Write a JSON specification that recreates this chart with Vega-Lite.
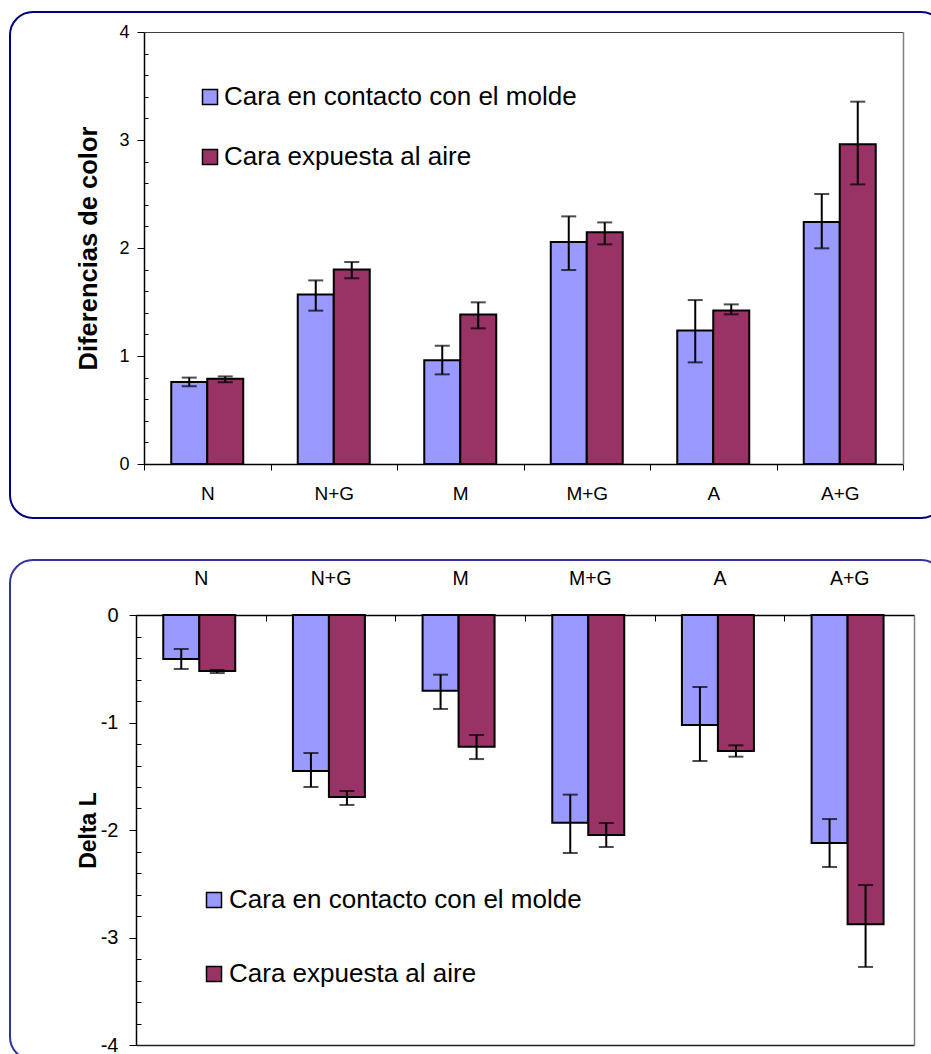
{
  "$schema": "https://vega.github.io/schema/vega-lite/v6.json",
  "padding": {"left": 9, "top": 11, "right": 0, "bottom": 0},
  "spacing": 40,
  "background": "white",
  "resolve": {"scale": {"color": "independent"}, "legend": {"color": "independent"}},
  "config": {
    "font": "Liberation Sans",
    "axis": {"grid": false, "labelColor": "black", "tickColor": "black", "domainColor": "black", "titleColor": "black", "labelFont": "Liberation Sans", "titleFont": "Liberation Sans"},
    "legend": {"labelFont": "Liberation Sans", "labelColor": "black"}
  },
  "datasets": {
    "top": [
      {"cat": "N", "serie": "Cara en contacto con el molde", "val": 0.76, "lo": 0.72, "hi": 0.8},
      {"cat": "N", "serie": "Cara expuesta al aire", "val": 0.79, "lo": 0.757, "hi": 0.811},
      {"cat": "N+G", "serie": "Cara en contacto con el molde", "val": 1.57, "lo": 1.42, "hi": 1.7},
      {"cat": "N+G", "serie": "Cara expuesta al aire", "val": 1.8, "lo": 1.72, "hi": 1.87},
      {"cat": "M", "serie": "Cara en contacto con el molde", "val": 0.96, "lo": 0.83, "hi": 1.095},
      {"cat": "M", "serie": "Cara expuesta al aire", "val": 1.385, "lo": 1.256, "hi": 1.497},
      {"cat": "M+G", "serie": "Cara en contacto con el molde", "val": 2.055, "lo": 1.796, "hi": 2.293},
      {"cat": "M+G", "serie": "Cara expuesta al aire", "val": 2.145, "lo": 2.034, "hi": 2.237},
      {"cat": "A", "serie": "Cara en contacto con el molde", "val": 1.237, "lo": 0.941, "hi": 1.518},
      {"cat": "A", "serie": "Cara expuesta al aire", "val": 1.422, "lo": 1.386, "hi": 1.478},
      {"cat": "A+G", "serie": "Cara en contacto con el molde", "val": 2.241, "lo": 1.997, "hi": 2.5},
      {"cat": "A+G", "serie": "Cara expuesta al aire", "val": 2.96, "lo": 2.589, "hi": 3.355}
    ],
    "bottom": [
      {"cat": "N", "serie": "Cara en contacto con el molde", "val": -0.409, "lo": -0.316, "hi": -0.502},
      {"cat": "N", "serie": "Cara expuesta al aire", "val": -0.521, "lo": -0.512, "hi": -0.54},
      {"cat": "N+G", "serie": "Cara en contacto con el molde", "val": -1.451, "lo": -1.284, "hi": -1.6},
      {"cat": "N+G", "serie": "Cara expuesta al aire", "val": -1.693, "lo": -1.637, "hi": -1.767},
      {"cat": "M", "serie": "Cara en contacto con el molde", "val": -0.704, "lo": -0.555, "hi": -0.874},
      {"cat": "M", "serie": "Cara expuesta al aire", "val": -1.225, "lo": -1.116, "hi": -1.34},
      {"cat": "M+G", "serie": "Cara en contacto con el molde", "val": -1.932, "lo": -1.671, "hi": -2.214},
      {"cat": "M+G", "serie": "Cara expuesta al aire", "val": -2.046, "lo": -1.935, "hi": -2.158},
      {"cat": "A", "serie": "Cara en contacto con el molde", "val": -1.023, "lo": -0.67, "hi": -1.358},
      {"cat": "A", "serie": "Cara expuesta al aire", "val": -1.265, "lo": -1.212, "hi": -1.318},
      {"cat": "A+G", "serie": "Cara en contacto con el molde", "val": -2.121, "lo": -1.898, "hi": -2.344},
      {"cat": "A+G", "serie": "Cara expuesta al aire", "val": -2.877, "lo": -2.512, "hi": -3.274}
    ]
  },
  "vconcat": [
    {
      "width": 934,
      "height": 506,
      "view": {"stroke": "#000080", "strokeWidth": 2, "cornerRadius": 23, "fill": "white"},
      "data": {"name": "top"},
      "resolve": {"axis": {"x": "independent", "y": "independent"}},
      "layer": [
        {
          "mark": {"type": "bar", "stroke": "black", "strokeWidth": 2},
          "encoding": {
            "x": {"field": "cat", "type": "nominal", "sort": ["N", "N+G", "M", "M+G", "A", "A+G"],
                  "scale": {"range": [134, 893], "paddingInner": 0, "paddingOuter": 0},
                  "axis": {"orient": "bottom", "offset": -54, "title": null, "tickBand": "extent", "tickSize": 6, "labelPadding": 14, "labelFontSize": 19, "labelAngle": 0, "domainWidth": 1.5, "tickWidth": 1}},
            "xOffset": {"field": "serie", "type": "nominal", "sort": ["Cara en contacto con el molde", "Cara expuesta al aire"], "scale": {"paddingInner": 0, "paddingOuter": 0.757}},
            "y": {"field": "val", "type": "quantitative",
                  "scale": {"domain": [0, 4], "range": [452, 20], "nice": false, "zero": true},
                  "axis": {"orient": "left", "offset": -134, "values": [0, 1, 2, 3, 4], "tickSize": 7, "labelPadding": 8, "labelFontSize": 18, "title": "Diferencias de color", "titleFontSize": 25.5, "titleFontWeight": "bold", "titlePadding": 17, "domainWidth": 1.5, "tickWidth": 1}},
            "color": {"field": "serie", "type": "nominal",
                      "scale": {"domain": ["Cara en contacto con el molde", "Cara expuesta al aire"], "range": ["#9999FF", "#993366"]},
                      "legend": {"orient": "none", "legendX": 187, "legendY": 72, "title": null, "padding": 0, "symbolType": "square", "symbolSize": 225, "symbolStrokeColor": "black", "symbolStrokeWidth": 1.5, "symbolOpacity": 1, "labelFontSize": 26, "labelLimit": 600, "labelOffset": 1, "rowPadding": 34}}
          }
        },
        {
          "mark": {"type": "rule", "color": "black", "strokeWidth": 2},
          "encoding": {
            "x": {"field": "cat", "type": "nominal", "sort": ["N", "N+G", "M", "M+G", "A", "A+G"], "scale": {"range": [134, 893], "paddingInner": 0, "paddingOuter": 0}, "axis": null},
            "xOffset": {"field": "serie", "type": "nominal", "sort": ["Cara en contacto con el molde", "Cara expuesta al aire"], "scale": {"paddingInner": 0, "paddingOuter": 0.757}},
            "y": {"field": "lo", "type": "quantitative", "scale": {"domain": [0, 4], "range": [452, 20], "nice": false},
                  "axis": {"orient": "left", "offset": -134, "values": [0.2, 0.4, 0.6, 0.8, 1.2, 1.4, 1.6, 1.8, 2.2, 2.4, 2.6, 2.8, 3.2, 3.4, 3.6, 3.8], "tickSize": -4, "labels": false, "domain": false, "title": null, "tickWidth": 1}},
            "y2": {"field": "hi"}
          }
        },
        {
          "mark": {"type": "tick", "orient": "horizontal", "color": "black", "thickness": 2, "size": 15},
          "encoding": {
            "x": {"field": "cat", "type": "nominal", "sort": ["N", "N+G", "M", "M+G", "A", "A+G"], "scale": {"range": [134, 893], "paddingInner": 0, "paddingOuter": 0},
                  "axis": {"orient": "top", "offset": -20, "labels": false, "ticks": false, "title": null, "domainColor": "#404040", "domainWidth": 1}},
            "xOffset": {"field": "serie", "type": "nominal", "sort": ["Cara en contacto con el molde", "Cara expuesta al aire"], "scale": {"paddingInner": 0, "paddingOuter": 0.757}},
            "y": {"field": "lo", "type": "quantitative", "scale": {"domain": [0, 4], "range": [452, 20], "nice": false},
                  "axis": {"orient": "right", "offset": -41, "labels": false, "ticks": false, "title": null, "domainColor": "#808080", "domainWidth": 1.5}}
          }
        },
        {
          "mark": {"type": "tick", "orient": "horizontal", "color": "black", "thickness": 2, "size": 15},
          "encoding": {
            "x": {"field": "cat", "type": "nominal", "sort": ["N", "N+G", "M", "M+G", "A", "A+G"], "scale": {"range": [134, 893], "paddingInner": 0, "paddingOuter": 0}, "axis": null},
            "xOffset": {"field": "serie", "type": "nominal", "sort": ["Cara en contacto con el molde", "Cara expuesta al aire"], "scale": {"paddingInner": 0, "paddingOuter": 0.757}},
            "y": {"field": "hi", "type": "quantitative", "scale": {"domain": [0, 4], "range": [452, 20], "nice": false}, "axis": null}
          }
        }
      ]
    },
    {
      "width": 934,
      "height": 500,
      "view": {"stroke": "#333399", "strokeWidth": 2, "cornerRadius": 23, "fill": "white"},
      "data": {"name": "bottom"},
      "resolve": {"axis": {"x": "independent", "y": "independent"}},
      "layer": [
        {
          "mark": {"type": "bar", "stroke": "black", "strokeWidth": 2},
          "encoding": {
            "x": {"field": "cat", "type": "nominal", "sort": ["N", "N+G", "M", "M+G", "A", "A+G"],
                  "scale": {"range": [126, 904], "paddingInner": 0, "paddingOuter": 0},
                  "axis": {"orient": "top", "offset": -55, "title": null, "tickBand": "extent", "tickSize": -6, "labelPadding": 37, "labelBaseline": "alphabetic", "labelFontSize": 19.5, "labelAngle": 0, "domainWidth": 1.5, "tickWidth": 1}},
            "xOffset": {"field": "serie", "type": "nominal", "sort": ["Cara en contacto con el molde", "Cara expuesta al aire"], "scale": {"paddingInner": 0, "paddingOuter": 0.707}},
            "y": {"field": "val", "type": "quantitative",
                  "scale": {"domain": [-4, 0], "range": [485, 55], "nice": false, "zero": true},
                  "axis": {"orient": "left", "offset": -126, "values": [0, -1, -2, -3, -4], "tickSize": 7, "labelPadding": 11, "labelFontSize": 20, "labelExpr": "replace(datum.label, '−', '-')", "title": "Delta L", "titleFontSize": 23, "titleFontWeight": "bold", "titlePadding": 0, "domainWidth": 1.5, "tickWidth": 1}},
            "color": {"field": "serie", "type": "nominal",
                      "scale": {"domain": ["Cara en contacto con el molde", "Cara expuesta al aire"], "range": ["#9999FF", "#993366"]},
                      "legend": {"orient": "none", "legendX": 191, "legendY": 327, "title": null, "padding": 0, "symbolType": "square", "symbolSize": 225, "symbolStrokeColor": "black", "symbolStrokeWidth": 1.5, "symbolOpacity": 1, "labelFontSize": 26, "labelLimit": 600, "labelOffset": 2, "rowPadding": 48}}
          }
        },
        {
          "mark": {"type": "rule", "color": "black", "strokeWidth": 2},
          "encoding": {
            "x": {"field": "cat", "type": "nominal", "sort": ["N", "N+G", "M", "M+G", "A", "A+G"], "scale": {"range": [126, 904], "paddingInner": 0, "paddingOuter": 0}, "axis": null},
            "xOffset": {"field": "serie", "type": "nominal", "sort": ["Cara en contacto con el molde", "Cara expuesta al aire"], "scale": {"paddingInner": 0, "paddingOuter": 0.707}},
            "y": {"field": "lo", "type": "quantitative", "scale": {"domain": [-4, 0], "range": [485, 55], "nice": false},
                  "axis": {"orient": "left", "offset": -126, "values": [-0.2, -0.4, -0.6, -0.8, -1.2, -1.4, -1.6, -1.8, -2.2, -2.4, -2.6, -2.8, -3.2, -3.4, -3.6, -3.8], "tickSize": -5, "labels": false, "domain": false, "title": null, "tickWidth": 1}},
            "y2": {"field": "hi"}
          }
        },
        {
          "mark": {"type": "tick", "orient": "horizontal", "color": "black", "thickness": 2, "size": 15},
          "encoding": {
            "x": {"field": "cat", "type": "nominal", "sort": ["N", "N+G", "M", "M+G", "A", "A+G"], "scale": {"range": [126, 904], "paddingInner": 0, "paddingOuter": 0},
                  "axis": {"orient": "bottom", "offset": -15, "labels": false, "ticks": false, "title": null, "domainColor": "#202020", "domainWidth": 1.5}},
            "xOffset": {"field": "serie", "type": "nominal", "sort": ["Cara en contacto con el molde", "Cara expuesta al aire"], "scale": {"paddingInner": 0, "paddingOuter": 0.707}},
            "y": {"field": "lo", "type": "quantitative", "scale": {"domain": [-4, 0], "range": [485, 55], "nice": false},
                  "axis": {"orient": "right", "offset": -30, "labels": false, "ticks": false, "title": null, "domainColor": "#808080", "domainWidth": 1.5}}
          }
        },
        {
          "mark": {"type": "tick", "orient": "horizontal", "color": "black", "thickness": 2, "size": 15},
          "encoding": {
            "x": {"field": "cat", "type": "nominal", "sort": ["N", "N+G", "M", "M+G", "A", "A+G"], "scale": {"range": [126, 904], "paddingInner": 0, "paddingOuter": 0}, "axis": null},
            "xOffset": {"field": "serie", "type": "nominal", "sort": ["Cara en contacto con el molde", "Cara expuesta al aire"], "scale": {"paddingInner": 0, "paddingOuter": 0.707}},
            "y": {"field": "hi", "type": "quantitative", "scale": {"domain": [-4, 0], "range": [485, 55], "nice": false}, "axis": null}
          }
        }
      ]
    }
  ]
}
